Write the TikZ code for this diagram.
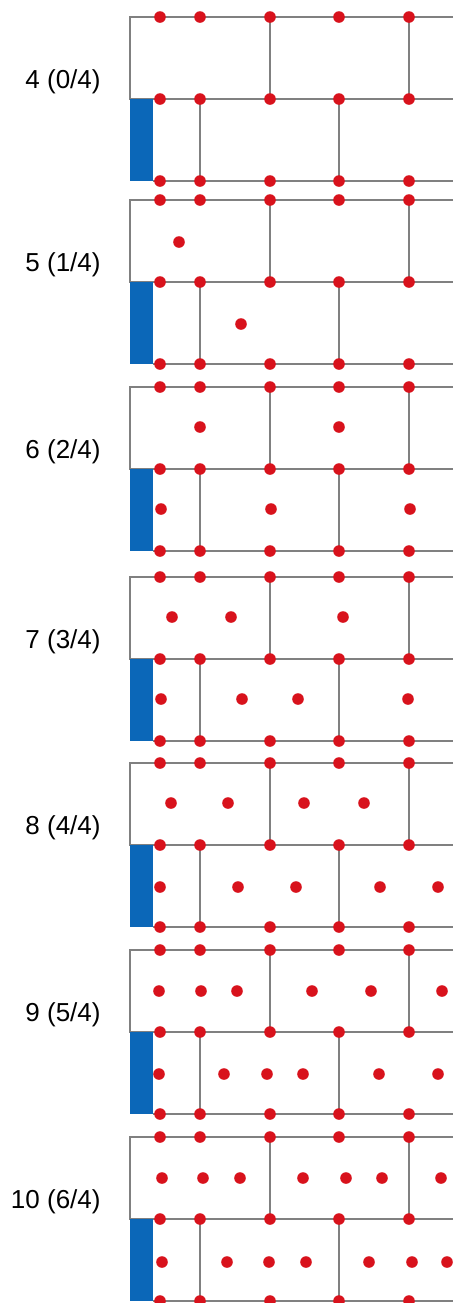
\documentclass[tikz,border=0pt]{standalone}
\usepackage{fontspec}
\setsansfont{Liberation Sans}
\usepackage{xcolor}
\definecolor{GridGrey}{HTML}{808080}
\definecolor{DotRed}{HTML}{D8121C}
\definecolor{BarBlue}{HTML}{0B67B8}
\newcommand{\LabelFont}{\sffamily}
\tikzset{
  gridline/.style={GridGrey, line width=1pt},
  bluebar/.style={fill=BarBlue},
  reddot/.style={fill=DotRed},
  panellabel/.style={anchor=east, inner sep=0pt, font={\LabelFont\fontsize{13pt}{15pt}\selectfont}}
}
\begin{document}
\begin{tikzpicture}[x=0.5pt, y=-0.5pt]
  \useasboundingbox (0,0) rectangle (456,1303);
  % seven panels: frame, bar, edge dots and the count label
  \foreach \ytop/\num/\part [count=\i] in {17/4/0, 200/5/1, 387/6/2, 577/7/3, 763/8/4, 950/9/5, 1137/10/6}{
    \pgfmathsetmacro{\ymid}{\ytop+82}
    \pgfmathsetmacro{\ybot}{\ytop+164}
    \draw[gridline] (453,\ytop) -- (130,\ytop) -- (130,\ymid) -- (453,\ymid);
    \draw[gridline] (153,\ybot) -- (453,\ybot);
    \draw[gridline] (270,\ytop) -- (270,\ymid);
    \draw[gridline] (409,\ytop) -- (409,\ymid);
    \draw[gridline] (200,\ymid) -- (200,\ybot);
    \draw[gridline] (339,\ymid) -- (339,\ybot);
    \fill[bluebar] (130,\ymid) rectangle (153,\ybot);
    \foreach \x in {160,200,270,339,409}{
      \foreach \y in {\ytop,\ymid,\ybot}{
        \fill[reddot] (\x,\y) circle[radius=2.9pt];
      }
    }
    \node[panellabel] (label\i) at (101,{\ymid-17}) {\num\ (\part/4)};
  }
  % inner dots, upper and lower row of each panel
  \foreach \x in {179} \fill[reddot] (\x,242) circle[radius=2.9pt];
  \foreach \x in {241} \fill[reddot] (\x,324) circle[radius=2.9pt];
  \foreach \x in {200,339} \fill[reddot] (\x,427) circle[radius=2.9pt];
  \foreach \x in {161,271,410} \fill[reddot] (\x,509) circle[radius=2.9pt];
  \foreach \x in {172,231,343} \fill[reddot] (\x,617) circle[radius=2.9pt];
  \foreach \x in {161,242,298,408} \fill[reddot] (\x,699) circle[radius=2.9pt];
  \foreach \x in {171,228,304,364} \fill[reddot] (\x,803) circle[radius=2.9pt];
  \foreach \x in {160,238,296,380,438} \fill[reddot] (\x,887) circle[radius=2.9pt];
  \foreach \x in {159,201,237,312,371,442} \fill[reddot] (\x,991) circle[radius=2.9pt];
  \foreach \x in {159,224,267,303,379,438} \fill[reddot] (\x,1074) circle[radius=2.9pt];
  \foreach \x in {162,203,240,303,346,382,441} \fill[reddot] (\x,1178) circle[radius=2.9pt];
  \foreach \x in {162,227,269,306,369,412,447} \fill[reddot] (\x,1262) circle[radius=2.9pt];
\end{tikzpicture}
\end{document}
